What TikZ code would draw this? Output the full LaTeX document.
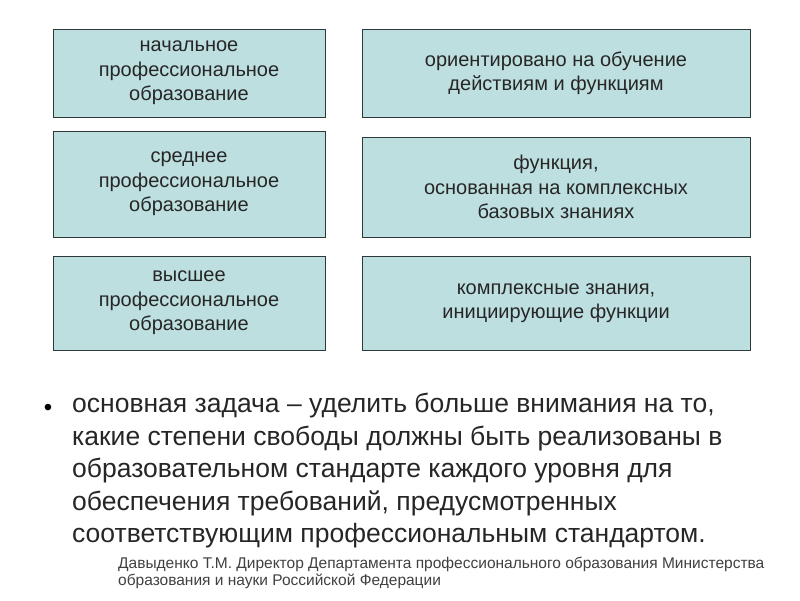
\documentclass[tikz,border=0pt]{standalone}
\usepackage{fontspec}
\setmainfont{Liberation Sans}
\definecolor{boxfill}{HTML}{BEDFE0}
\definecolor{boxline}{HTML}{2E3A3A}
\tikzset{
  levelbox/.style={draw=boxline, fill=boxfill, line width=0.8pt, align=center,
    font=\fontsize{20}{24.5}\selectfont, text=black!85, inner sep=0pt},
}
\begin{document}
\begin{tikzpicture}[x=1pt,y=-1pt]
\useasboundingbox (0,0) rectangle (800,600);
% left column: levels
\node[levelbox, minimum width=272pt, minimum height=88pt] (nach) at (189,73) {начальное\\профессиональное\\образование};
\node[levelbox, minimum width=272pt, minimum height=106pt] (sred) at (189,184) {среднее\\профессиональное\\образование};
\node[levelbox, minimum width=272pt, minimum height=94pt] (vysh) at (189,303) {высшее\\профессиональное\\образование};
% right column: orientation
\node[levelbox, minimum width=388pt, minimum height=88pt] (orient) at (556,73) {ориентировано на обучение\\действиям и функциям};
\node[levelbox, minimum width=388pt, minimum height=100pt] (funk) at (556,187) {функция,\\основанная на комплексных\\базовых знаниях};
\node[levelbox, minimum width=388pt, minimum height=94pt] (znan) at (556,303) {комплексные знания,\\инициирующие функции};
% main statement
\node[anchor=north west, align=left, font=\fontsize{26.5}{32.5}\selectfont, text=black!85, inner sep=0pt] (task) at (72,393)
 {основная задача -- уделить больше внимания на то,\\какие степени свободы должны быть реализованы в\\образовательном стандарте каждого уровня для\\обеспечения требований, предусмотренных\\соответствующим профессиональным стандартом.};
\node[font=\fontsize{24}{25}\selectfont, inner sep=0pt] (dot) at (48,410) {•};
% source
\node[anchor=north west, align=left, font=\fontsize{15.5}{17}\selectfont, text=black!75, inner sep=0pt] (src) at (118,557)
 {Давыденко Т.М. Директор Департамента профессионального образования Министерства\\образования и науки Российской Федерации};
\end{tikzpicture}
\end{document}
